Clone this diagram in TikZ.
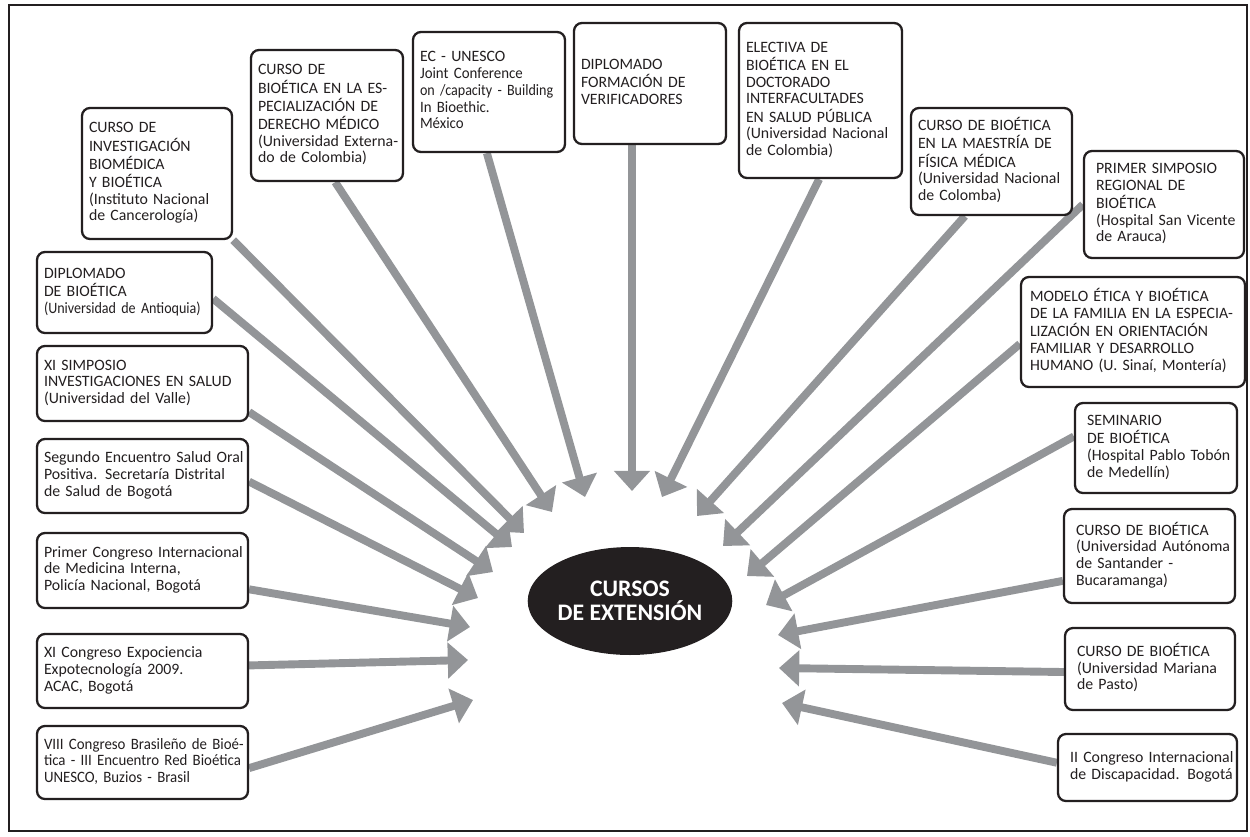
\documentclass[tikz,border=0pt]{standalone}
\usepackage{fontspec}
\setmainfont{Carlito}
\newfontfamily\narrowfont{Carlito}[FakeStretch=0.89]
\newfontfamily\semifont{Carlito}[FakeStretch=0.94]
\usetikzlibrary{arrows.meta,shapes.geometric,backgrounds}
\definecolor{ink}{RGB}{35,31,32}
\definecolor{arrowgray}{RGB}{147,149,152}
\newcommand{\lns}[1]{\begin{tabular}{@{}l@{}}#1\end{tabular}}
\begin{document}
\begin{tikzpicture}[x=0.02cm,y=-0.02cm,
  box/.style={draw=ink, line width=1.3pt, rounded corners=4.5pt, fill=white,
    align=left, inner xsep=0.14cm, inner ysep=0pt, text=ink,
    font=\fontsize{9}{9.5}\selectfont},
  wide/.style={inner xsep=0.24cm},
  conn/.style={draw=arrowgray, line width=4.5pt,
    -{Triangle[length=11.5pt,width=20pt]}}]
\useasboundingbox (0,0) rectangle (1250,836);
\draw[ink, line width=1.1pt] (9,5) rectangle (1247,831);

% top-left boxes
\node[box, text width=2.72cm, minimum height=2.62cm] (B1) at (157,173.5)
  {\lns{CURSO DE\\INVESTIGACIÓN\\BIOMÉDICA\\Y BIOÉTICA\\(Instituto Nacional\\de Cancerología)}};
\node[box, text width=2.76cm, minimum height=2.62cm] (B2) at (327,115.5)
  {\lns{CURSO DE\\BIOÉTICA EN LA ES-\\PECIALIZACIÓN DE\\DERECHO MÉDICO\\(Universidad Externa-\\do de Colombia)}};
\node[box, text width=2.76cm, minimum height=2.40cm] (B3) at (489,92)
  {\lns{EC - UNESCO\\\semifont Joint Conference\\\narrowfont on /capacity - Building\\\semifont In Bioethic.\\\semifont México}};
\node[box, text width=2.76cm, minimum height=2.42cm] (B4) at (650,83.5)
  {\lns{DIPLOMADO\\FORMACIÓN DE\\VERIFICADORES}};
\node[box, text width=2.98cm, minimum height=3.10cm] (B5) at (820.5,100.5)
  {\lns{ELECTIVA DE\\BIOÉTICA EN EL\\DOCTORADO\\INTERFACULTADES\\EN SALUD PÚBLICA\\(Universidad Nacional\\de Colombia)}};
\node[box, text width=2.94cm, minimum height=2.14cm] (B6) at (991.5,161.5)
  {\lns{CURSO DE BIOÉTICA\\EN LA MAESTRÍA DE\\FÍSICA MÉDICA\\(Universidad Nacional\\de Colomba)}};
\node[box, wide, text width=2.72cm, minimum height=2.14cm] (B7) at (1164,204.5)
  {\lns{PRIMER SIMPOSIO\\REGIONAL DE\\BIOÉTICA\\(Hospital San Vicente\\de Arauca)}};
\node[box, inner xsep=0.18cm, text width=4.12cm, minimum height=2.20cm] (B8) at (1133,332)
  {\lns{MODELO ÉTICA Y BIOÉTICA\\DE LA FAMILIA EN LA ESPECIA-\\LIZACIÓN EN ORIENTACIÓN\\FAMILIAR Y DESARROLLO\\HUMANO (U. Sinaí, Montería)}};
\node[box, wide, text width=2.76cm, minimum height=1.80cm] (B9) at (1156,448)
  {\lns{SEMINARIO\\DE BIOÉTICA\\(Hospital Pablo Tobón\\de Medellín)}};
\node[box, wide, text width=2.94cm, minimum height=1.88cm] (B10) at (1149.5,556)
  {\lns{CURSO DE BIOÉTICA\\(Universidad Autónoma\\de Santander -\\Bucaramanga)}};
\node[box, wide, text width=2.92cm, minimum height=1.64cm] (B11) at (1150,669)
  {\lns{CURSO DE BIOÉTICA\\(Universidad Mariana\\de Pasto)}};
\node[box, wide, text width=3.10cm, minimum height=1.34cm] (B12) at (1147.5,767.5)
  {\lns{II Congreso Internacional\\de Discapacidad. Bogotá}};

% left column
\node[box, text width=3.22cm, minimum height=1.62cm] (L1) at (124.5,292.5)
  {\lns{DIPLOMADO\\DE BIOÉTICA\\\narrowfont (Universidad de Antioquia)}};
\node[box, text width=3.94cm, minimum height=1.50cm] (L2) at (142.5,383.5)
  {\lns{XI SIMPOSIO\\INVESTIGACIONES EN SALUD\\(Universidad del Valle)}};
\node[box, text width=3.94cm, minimum height=1.48cm] (L3) at (142.5,476)
  {\lns{Segundo Encuentro Salud Oral\\Positiva. Secretaría Distrital\\de Salud de Bogotá}};
\node[box, text width=3.94cm, minimum height=1.50cm] (L4) at (142.5,570.5)
  {\lns{Primer Congreso Internacional\\de Medicina Interna,\\Policía Nacional, Bogotá}};
\node[box, text width=3.94cm, minimum height=1.48cm] (L5) at (142.5,671)
  {\lns{XI Congreso Expociencia\\Expotecnología 2009.\\ACAC, Bogotá}};
\node[box, text width=3.94cm, minimum height=1.46cm] (L6) at (142.5,762.5)
  {\lns{\semifont VIII Congreso Brasileño de Bioé-\\\semifont tica - III Encuentro Red Bioética\\\semifont UNESCO, Buzios - Brasil}};

% centre
\node[ellipse, fill=ink, minimum width=3.8cm, minimum height=2.16cm, inner sep=0pt,
  text=white, align=center, font=\bfseries\fontsize{13.5}{13.6}\selectfont] (C) at (630,601)
  {CURSOS\\DE EXTENSIÓN};

% arrow tips
\coordinate (t1) at (524,533);
\coordinate (t2) at (552,512);
\coordinate (t3) at (585,497);
\coordinate (t4) at (632,491);
\coordinate (t5) at (662,497);
\coordinate (t6) at (697,516);
\coordinate (t7) at (723,546);
\coordinate (t8) at (747,576);
\coordinate (t9) at (766,605);
\coordinate (t10) at (778,635);
\coordinate (t11) at (779,668);
\coordinate (t12) at (782,703);
\coordinate (u1) at (512,547);
\coordinate (u2) at (493,572);
\coordinate (u3) at (478,598);
\coordinate (u4) at (470,627);
\coordinate (u5) at (468,660);
\coordinate (u6) at (473,700);

\begin{pgfonlayer}{background}
\draw[conn] (B1.south east) -- (t1);
\draw[conn] (B2.-83) -- (t2);
\draw[conn] (B3.-92) -- (t3);
\draw[conn] (B4.south -| t4) -- (t4);
\draw[conn] (B5.-91) -- (t5);
\draw[conn] (B6.-116) -- (t6);
\draw[conn] (B7.west) -- (t7);
\draw[conn] (B8.186.6) -- (t8);
\draw[conn] (B9.172.3) -- (t9);
\draw[conn] (B10.196.1) -- (t10);
\draw[conn] (B11.182.7) -- (t11);
\draw[conn] (B12.177.1) -- (t12);
\draw[conn] (L1.-4.9) -- (u1);
\draw[conn] (L2.-15.6) -- (u2);
\draw[conn] (L3.-3.8) -- (u3);
\draw[conn] (L4.-10.5) -- (u4);
\draw[conn] (L5.3.3) -- (u5);
\draw[conn] (L6.-3) -- (u6);
\end{pgfonlayer}
\end{tikzpicture}
\end{document}
